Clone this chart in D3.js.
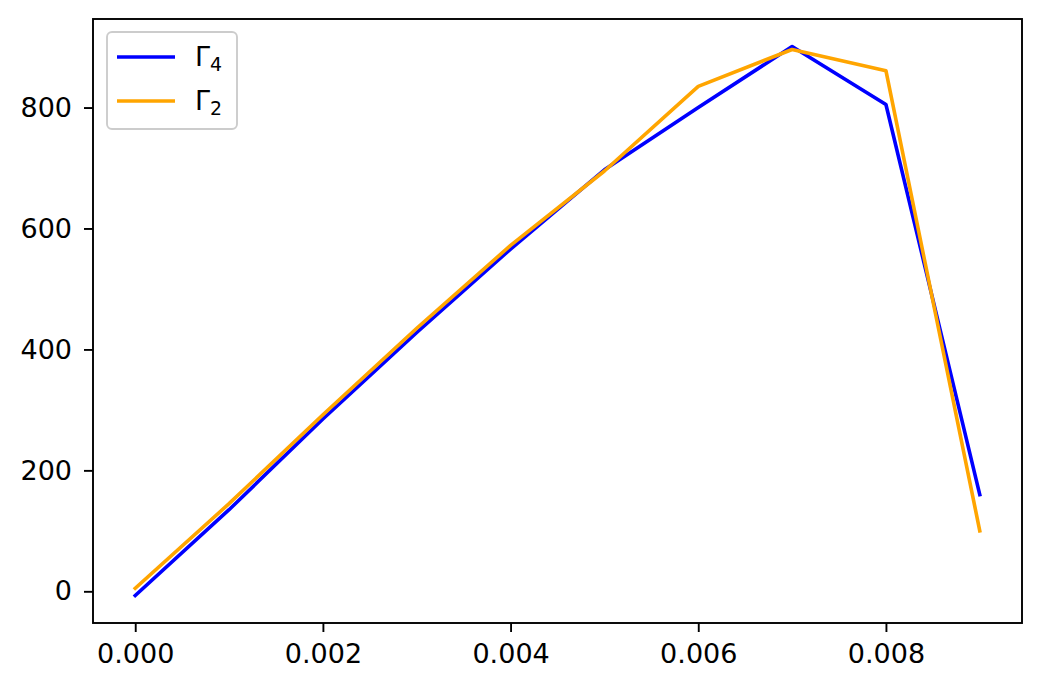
<!DOCTYPE html>
<html><head><meta charset="utf-8">
<script src="https://cdn.jsdelivr.net/npm/d3@7"></script>
<style>
html,body{margin:0;padding:0;background:#fff;}
svg{display:block;font-family:"DejaVu Sans",sans-serif;}
</style></head>
<body>
<script>
const xValues = [0, 0.001, 0.002, 0.003, 0.004, 0.005, 0.006, 0.007, 0.008, 0.009];
const gamma4 = [-7, 135, 285, 428, 566, 697, 800, 901, 805, 160];
const gamma2 = [5, 145, 292, 435, 572, 695, 835, 896, 861, 100];
const xTicks = [0, 0.002, 0.004, 0.006, 0.008];
const yTicks = [0, 200, 400, 600, 800];
const seriesNames = [["Γ", "4"], ["Γ", "2"]];
const seriesColors = ["#0000ff", "#ffa500"];

const W = 1042, H = 691;
const m = {left: 93, right: 20, top: 19, bottom: 68};
const svg = d3.select("body").append("svg").attr("width", W).attr("height", H);

const xr = [d3.min(xValues), d3.max(xValues)];
const xm = (xr[1]-xr[0])*0.05;
const x = d3.scaleLinear().domain([xr[0]-xm, xr[1]+xm]).range([m.left, W-m.right]);
const all = gamma4.concat(gamma2);
const yr = [d3.min(all), d3.max(all)];
const ym = (yr[1]-yr[0])*0.05;
const y = d3.scaleLinear().domain([yr[0]-ym, yr[1]+ym]).range([H-m.bottom, m.top]);

const fs = 27;
const xAxis = svg.append("g").attr("transform", `translate(0,${H-m.bottom})`)
  .call(d3.axisBottom(x).tickValues(xTicks).tickFormat(d3.format(".3f")).tickSize(9).tickPadding(12));
const yAxis = svg.append("g").attr("transform", `translate(${m.left},0)`)
  .call(d3.axisLeft(y).tickValues(yTicks).tickFormat(d3.format("d")).tickSize(9).tickPadding(12));
[xAxis, yAxis].forEach(a => {
  a.select(".domain").remove();
  a.selectAll(".tick line").attr("stroke", "#000").attr("stroke-width", 1.9);
  a.selectAll(".tick text").attr("font-size", fs).attr("font-family", "DejaVu Sans").attr("fill", "#000");
});

const series = [gamma4, gamma2];
const line = d3.line().x((d,i) => x(xValues[i])).y(d => y(d));
series.forEach((s, k) => {
  svg.append("path").datum(s).attr("d", line)
    .attr("fill", "none").attr("stroke", seriesColors[k]).attr("stroke-width", 3.6)
    .attr("stroke-linejoin", "round").attr("stroke-linecap", "square");
});

svg.append("rect").attr("x", m.left).attr("y", m.top)
  .attr("width", W-m.left-m.right).attr("height", H-m.top-m.bottom)
  .attr("fill", "none").attr("stroke", "#000").attr("stroke-width", 1.9);

// legend
const lg = svg.append("g");
lg.append("rect").attr("x", 107).attr("y", 32).attr("width", 130).attr("height", 97)
  .attr("rx", 5).attr("fill", "#fff").attr("fill-opacity", 0.8)
  .attr("stroke", "#cccccc").attr("stroke-width", 1.9);
seriesNames.forEach((n, k) => {
  const yy = 57 + k*44;
  lg.append("line").attr("x1", 117).attr("x2", 175).attr("y1", yy).attr("y2", yy)
    .attr("stroke", seriesColors[k]).attr("stroke-width", 3.6);
  const t = lg.append("text").attr("x", 195).attr("y", yy + 9).attr("font-size", fs).attr("fill", "#000");
  t.append("tspan").text(n[0]);
  t.append("tspan").attr("font-size", fs*0.7).attr("dy", 5).text(n[1]);
});
</script>
</body></html>
